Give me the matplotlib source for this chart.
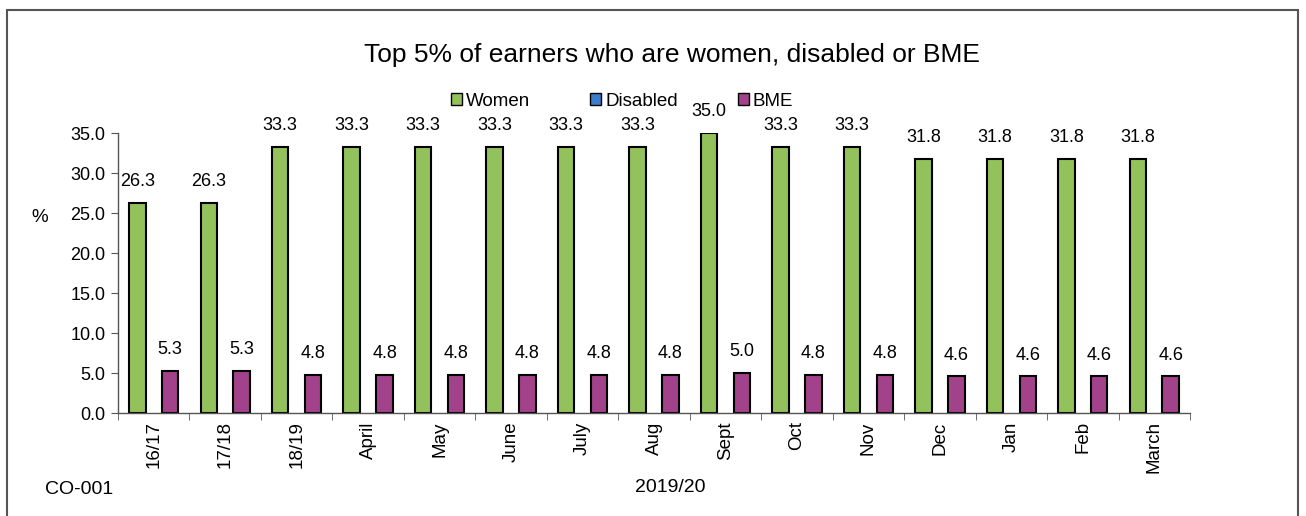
import matplotlib
matplotlib.use("Agg")
import matplotlib.pyplot as plt
import numpy as np
from matplotlib.patches import Rectangle

plt.rcParams['font.family'] = ['Liberation Sans', 'DejaVu Sans']

categories = ["16/17", "17/18", "18/19", "April", "May", "June", "July", "Aug",
              "Sept", "Oct", "Nov", "Dec", "Jan", "Feb", "March"]
women = [26.3, 26.3, 33.3, 33.3, 33.3, 33.3, 33.3, 33.3, 35.0, 33.3, 33.3, 31.8, 31.8, 31.8, 31.8]
disabled = [0.0] * 15
bme = [5.3, 5.3, 4.8, 4.8, 4.8, 4.8, 4.8, 4.8, 5.0, 4.8, 4.8, 4.6, 4.6, 4.6, 4.6]

c_women = "#93C25C"
c_disabled = "#3A7DC8"
c_bme = "#A2428A"

fig = plt.figure(figsize=(13.06, 5.16), dpi=100)
ax = fig.add_axes([118 / 1306, 1 - 413 / 516, (1190 - 118) / 1306, (413 - 133) / 516])

x = np.arange(len(categories))
w = 0.23
b1 = ax.bar(x - w, women, w, color=c_women, edgecolor="black", linewidth=1.5, label="Women")
b2 = ax.bar(x, disabled, w, color=c_disabled, edgecolor="none", linewidth=0, label="Disabled")
b3 = ax.bar(x + w, bme, w, color=c_bme, edgecolor="black", linewidth=1.5, label="BME")

for bars, vals in ((b1, women), (b3, bme)):
    for rect, v in zip(bars, vals):
        ax.annotate(f"{v:.1f}", (rect.get_x() + rect.get_width() / 2, v),
                    xytext=(0, 9), textcoords="offset points",
                    ha="center", va="bottom", fontsize=13)

ax.set_xlim(-0.5, len(categories) - 0.5)
ax.set_ylim(0, 35)
ax.set_yticks(np.arange(0, 35.1, 5))
ax.set_yticklabels([f"{v:.1f}" for v in np.arange(0, 35.1, 5)], fontsize=13)
ax.set_xticks(x)
ax.set_xticklabels(categories, rotation=90, fontsize=13.5)
ax.set_xticks(np.arange(-0.5, len(categories), 1), minor=True)
ax.tick_params(axis="x", which="major", length=0, pad=6)
ax.tick_params(axis="x", which="minor", length=5, direction="out", color="#555555")
ax.tick_params(axis="y", length=5, direction="out", color="#555555", pad=4)

for s in ("top", "right"):
    ax.spines[s].set_visible(False)
for s in ("left", "bottom"):
    ax.spines[s].set_color("#555555")
    ax.spines[s].set_linewidth(1.0)

fig.text(672 / 1306, 1 - 55 / 516, "Top 5% of earners who are women, disabled or BME",
         ha="center", va="center", fontsize=19)
fig.text(40 / 1306, 1 - 218 / 516, "%", ha="center", va="center", fontsize=13.5)
fig.text(45 / 1306, 1 - 490 / 516, "CO-001", ha="left", va="center", fontsize=14)
fig.text(670 / 1306, 1 - 488 / 516, "2019/20", ha="center", va="center", fontsize=14)

leg = fig.legend(handles=[b1, b2, b3], labels=["Women", "Disabled", "BME"],
                 loc="center", bbox_to_anchor=(622 / 1306, 1 - 101 / 516),
                 ncol=3, frameon=False, fontsize=13.5, handlelength=0.6, handleheight=0.6,
                 handletextpad=0.2, columnspacing=3.2)
for h in leg.legend_handles:
    h.set_edgecolor("black")
    h.set_linewidth(1.0)

# outer frame around the chart area
fig.patches.append(Rectangle((7 / 1306, -0.05), (1298 - 7) / 1306, 1.05 - 10 / 516,
                             transform=fig.transFigure, fill=False,
                             edgecolor="#555555", linewidth=1.5))

fig.savefig("out.png", dpi=100)
